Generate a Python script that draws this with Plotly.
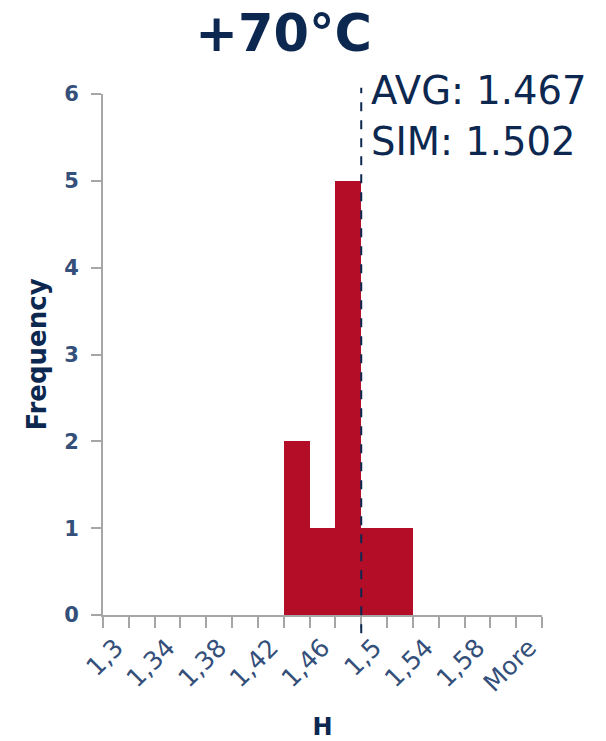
import plotly.graph_objects as go

# Histogram bins (upper edges) and counts
bins = ["1,3", "1,32", "1,34", "1,36", "1,38", "1,4", "1,42", "1,44", "1,46",
        "1,48", "1,5", "1,52", "1,54", "1,56", "1,58", "1,6", "More"]
counts = [0, 0, 0, 0, 0, 0, 0, 2, 1, 5, 1, 1, 0, 0, 0, 0, 0]
shown_labels = ["1,3", "1,34", "1,38", "1,42", "1,46", "1,5", "1,54", "1,58", "More"]

avg_value = 1.467
sim_value = 1.502
marker_pos = 9.5  # boundary between the 1,48 and 1,5 bins

navy = "#0d2850"
tick_col = "#34507a"
axis_grey = "#a6a6a6"
font = "DejaVu Sans"

ticktext = [b if b in shown_labels else "" for b in bins]

fig = go.Figure(go.Bar(
    x=bins, y=counts,
    marker=dict(color="#b30d28", line=dict(width=0)),
))

fig.add_shape(type="line", xref="x", yref="paper",
              x0=marker_pos, x1=marker_pos, y0=-0.035, y1=1.012,
              line=dict(color=navy, width=2, dash="dash"))

fig.add_annotation(xref="paper", yref="paper", x=0.607, y=1.006,
                   xanchor="left", yanchor="middle", showarrow=False,
                   text=f"AVG: {avg_value:.3f}",
                   font=dict(family=font, size=38.5, color=navy))
fig.add_annotation(xref="paper", yref="paper", x=0.607, y=0.908,
                   xanchor="left", yanchor="middle", showarrow=False,
                   text=f"SIM: {sim_value:.3f}",
                   font=dict(family=font, size=38.5, color=navy))

fig.update_layout(
    width=606, height=741,
    margin=dict(l=103, r=64, t=94, b=126),
    paper_bgcolor="white", plot_bgcolor="white",
    bargap=0, showlegend=False,
    title=dict(text="<b>+70°C</b>", x=0.468, xanchor="center",
               y=0.955, yanchor="middle",
               font=dict(family=font, size=51, color=navy)),
    xaxis=dict(
        type="category", tickmode="array", tickvals=bins, ticktext=ticktext,
        tickson="boundaries", ticks="outside", ticklen=11, tickwidth=2,
        tickcolor=axis_grey, tickangle=-45, ticklabelstandoff=6,
        tickfont=dict(family=font, size=25, color=tick_col),
        showline=True, linecolor=axis_grey, linewidth=2,
        showgrid=False, zeroline=False, automargin=False,
        title=dict(text="<b>H</b>", standoff=26,
                   font=dict(family=font, size=24, color=navy)),
    ),
    yaxis=dict(
        range=[0, 6], tickvals=[0, 1, 2, 3, 4, 5, 6],
        ticks="outside", ticklen=10, tickwidth=2, tickcolor=axis_grey,
        ticklabelstandoff=8,
        tickfont=dict(family=font, size=21, color=tick_col, weight="bold"),
        showline=True, linecolor=axis_grey, linewidth=2,
        showgrid=False, zeroline=False, automargin=False,
        title=dict(text="<b>Frequency</b>", standoff=10,
                   font=dict(family=font, size=26, color=navy)),
    ),
)

fig.write_html("out.html")
